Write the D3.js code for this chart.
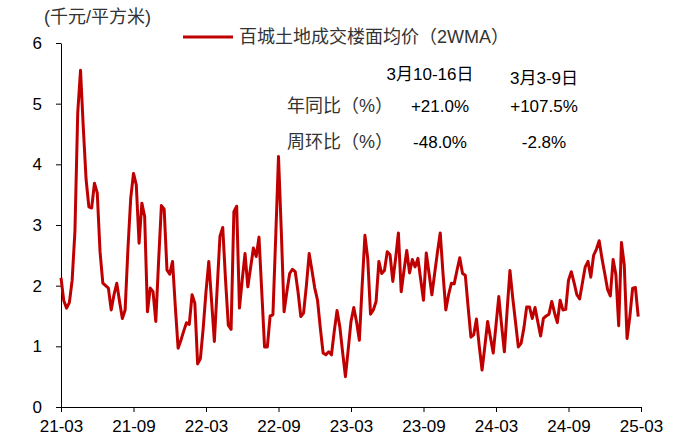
<!DOCTYPE html>
<html>
<head>
<meta charset="utf-8">
<script src="https://cdn.jsdelivr.net/npm/d3@7"></script>
<style>
  body { margin: 0; background: #fff; }
  text { font-family: "Liberation Sans", Arial, "Noto Sans CJK SC", sans-serif; }
</style>
</head>
<body>
<div id="wrapper"></div>
<script>
// weekly 2WMA, index 0 = first week of 2021-03
const prices = [
  2.13, 1.75, 1.63, 1.72, 2.09, 2.90, 4.85, 5.55, 4.60, 3.75,
  3.30, 3.28, 3.69, 3.53, 2.56, 2.04, 2.00, 1.96, 1.60, 1.85,
  2.04, 1.74, 1.46, 1.60, 2.60, 3.44, 3.85, 3.66, 2.70, 3.36,
  3.14, 1.57, 1.96, 1.90, 1.41, 2.40, 3.32, 3.26, 2.26, 2.19,
  2.40, 1.65, 0.97, 1.10, 1.25, 1.39, 1.36, 1.85, 1.71, 0.71,
  0.80, 1.30, 1.90, 2.40, 1.75, 1.08, 1.95, 2.81, 2.96, 2.10,
  1.35, 1.28, 3.22, 3.31, 1.63, 2.10, 2.53, 1.98, 2.30, 2.62,
  2.48, 2.80, 1.90, 0.99, 0.99, 1.50, 1.52, 2.80, 4.13, 2.90,
  1.57, 1.90, 2.20, 2.27, 2.23, 1.90, 1.49, 1.55, 2.00, 2.53,
  2.25, 1.96, 1.76, 1.30, 0.89, 0.86, 0.91, 0.86, 1.25, 1.59,
  1.32, 0.90, 0.50, 0.95, 1.41, 1.64, 1.40, 1.10, 2.00, 2.83,
  2.45, 1.53, 1.60, 1.74, 2.40, 2.20, 2.25, 2.56, 2.51, 2.07,
  2.45, 2.87, 1.90, 2.25, 2.58, 2.21, 2.43, 2.31, 2.45, 2.10,
  1.76, 2.54, 2.20, 1.85, 2.20, 2.55, 2.87, 2.20, 1.60, 1.85,
  2.04, 2.03, 2.25, 2.46, 2.20, 2.17, 1.65, 1.15, 1.19, 1.45,
  1.00, 0.61, 1.00, 1.41, 1.15, 0.89, 1.35, 1.82, 1.35, 0.91,
  1.60, 2.25, 1.80, 1.40, 0.99, 1.05, 1.30, 1.65, 1.65, 1.46,
  1.64, 1.40, 1.17, 1.46, 1.50, 1.53, 1.74, 1.55, 1.39, 1.76,
  1.60, 1.61, 2.09, 2.23, 2.05, 1.85, 1.78, 2.05, 2.31, 2.40,
  2.14, 2.50, 2.60, 2.74, 2.45, 2.20, 1.94, 1.83, 2.43, 2.18,
  1.34, 2.71, 2.34, 1.13, 1.49, 1.96, 1.97, 1.49
]

const xLabels = ["21-03", "21-09", "22-03", "22-09", "23-03", "23-09", "24-03", "24-09", "25-03"]
const weeksPerLabel = 26
const yTicks = [0, 1, 2, 3, 4, 5, 6]

const unitLabel = "(千元/平方米)"
const seriesName = "百城土地成交楼面均价（2WMA）"
const periods = ["3月10-16日", "3月3-9日"]
const rowNames = ["年同比（%）", "周环比（%）"]
const yoy = ["+21.0%", "+107.5%"]
const wow = ["-48.0%", "-2.8%"]

const red = "#c00000"

const dms = {
  width: 685,
  height: 443,
  margin: { top: 43, right: 44, bottom: 36, left: 61 },
}
dms.boundedWidth = dms.width - dms.margin.left - dms.margin.right
dms.boundedHeight = dms.height - dms.margin.top - dms.margin.bottom

const svg = d3.select("#wrapper")
  .append("svg")
  .attr("width", dms.width)
  .attr("height", dms.height)

const bounds = svg.append("g")
  .attr("transform", `translate(${dms.margin.left},${dms.margin.top})`)

const xScale = d3.scaleLinear()
  .domain([0, weeksPerLabel * (xLabels.length - 1)])
  .range([0, dms.boundedWidth])

const yScale = d3.scaleLinear()
  .domain([0, 6])
  .range([dms.boundedHeight, 0])

// axes
const yAxis = bounds.append("g")
  .call(d3.axisLeft(yScale)
    .tickValues(yTicks)
    .tickFormat(d3.format("d"))
    .tickSize(5).tickSizeOuter(0).tickPadding(14))
const xAxis = bounds.append("g")
  .attr("transform", `translate(0,${dms.boundedHeight})`)
  .call(d3.axisBottom(xScale)
    .tickValues(xLabels.map((d, i) => i * weeksPerLabel))
    .tickFormat((d, i) => xLabels[i])
    .tickSize(5).tickSizeOuter(0).tickPadding(8))

svg.selectAll(".tick text")
  .attr("font-size", "17px")
  .attr("font-family", "Liberation Sans, Arial, sans-serif")
  .attr("fill", "#000")
svg.selectAll(".domain, .tick line").attr("stroke", "#000")

// line
const line = d3.line()
  .x((d, i) => xScale(i))
  .y(d => yScale(d))

bounds.append("path")
  .datum(prices)
  .attr("d", line)
  .attr("fill", "none")
  .attr("stroke", red)
  .attr("stroke-width", 3)
  .attr("stroke-linejoin", "round")

// unit label
svg.append("text")
  .attr("x", 44)
  .attr("y", 23)
  .attr("font-size", "18px")
  .attr("fill", "#333")
  .text(unitLabel)

// legend
svg.append("line")
  .attr("x1", 183).attr("x2", 233)
  .attr("y1", 37).attr("y2", 37)
  .attr("stroke", red)
  .attr("stroke-width", 3)
svg.append("text")
  .attr("x", 239)
  .attr("y", 43)
  .attr("font-size", "18px")
  .attr("fill", "#333")
  .text(seriesName)

// annotation table
const colX = [430, 544]
const ann = svg.append("g").attr("font-size", "17px").attr("fill", "#000")
ann.selectAll(".period")
  .data(periods)
  .join("text")
  .attr("x", (d, i) => colX[i])
  .attr("y", (d, i) => i === 0 ? 80 : 84)
  .attr("text-anchor", "middle")
  .text(d => d)
ann.selectAll(".row")
  .data(rowNames)
  .join("text")
  .attr("x", 287)
  .attr("y", (d, i) => i === 0 ? 112 : 148)
  .attr("font-size", "18px")
  .attr("fill", "#333")
  .text(d => d)
ann.selectAll(".yoy")
  .data(yoy)
  .join("text")
  .attr("x", (d, i) => colX[i] + (i === 0 ? 10 : 0))
  .attr("y", 112)
  .attr("text-anchor", "middle")
  .text(d => d)
ann.selectAll(".wow")
  .data(wow)
  .join("text")
  .attr("x", (d, i) => colX[i] + (i === 0 ? 10 : 0))
  .attr("y", 148)
  .attr("text-anchor", "middle")
  .text(d => d)
</script>
</body>
</html>
